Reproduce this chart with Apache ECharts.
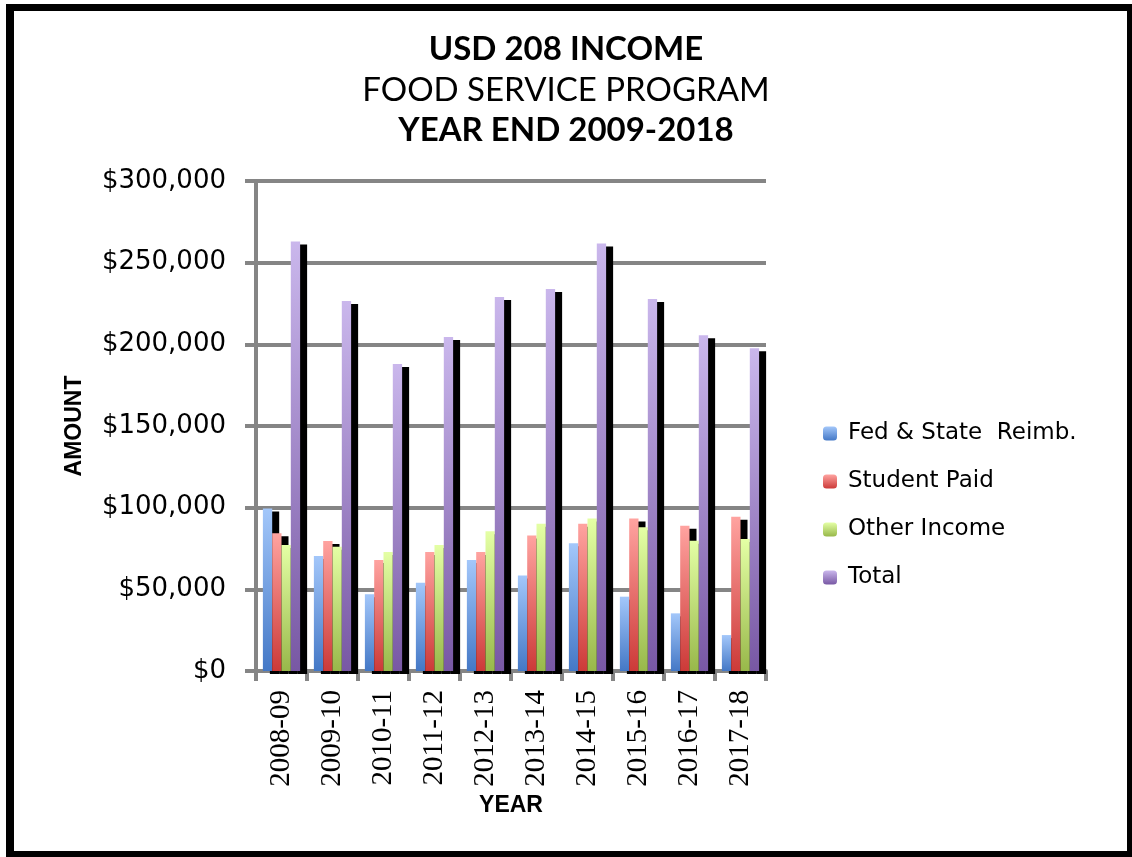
<!DOCTYPE html>
<html>
<head>
<meta charset="utf-8">
<script src="https://cdn.jsdelivr.net/npm/echarts@6/dist/echarts.min.js"></script>
<style>
html,body{margin:0;padding:0;background:#fff;}
#chart{width:1132px;height:857px;}
</style>
</head>
<body>
<div id="chart"></div>
<script>
var categories = ['2008-09','2009-10','2010-11','2011-12','2012-13','2013-14','2014-15','2015-16','2016-17','2017-18'];
var fedState = [99500, 70400, 47000, 54000, 68000, 58400, 78200, 45500, 35300, 22000];
var studentPaid = [84300, 79600, 68000, 72900, 72900, 83000, 90200, 93300, 89000, 94500];
var otherIncome = [77200, 76100, 72900, 77200, 85500, 90200, 93300, 88000, 79800, 80800];
var total = [262900, 226600, 188000, 204500, 229000, 233900, 261700, 227800, 205500, 197600];
var yTicks = [0, 50000, 100000, 150000, 200000, 250000, 300000];

function grad(top, bottom) {
  return new echarts.graphic.LinearGradient(0, 0, 0, 1, [
    {offset: 0, color: top}, {offset: 1, color: bottom}
  ]);
}
var gridColor = '#858585';
var chart = echarts.init(document.getElementById('chart'));

function barSeries(name, data, top, bottom) {
  return {
    name: name, type: 'bar', data: data,
    barGap: '0%', barCategoryGap: '27%',
    itemStyle: {
      color: grad(top, bottom),
      shadowColor: '#000', shadowBlur: 0, shadowOffsetX: 7, shadowOffsetY: 3
    }
  };
}

chart.setOption({
  animation: false,
  backgroundColor: '#fff',
  title: [
    {text: 'USD 208 INCOME', left: 'center', top: 28, textStyle: {fontFamily: 'Lato', fontWeight: 'bold', fontSize: 33, color: '#000'}},
    {text: 'FOOD SERVICE PROGRAM', left: 'center', top: 69, textStyle: {fontFamily: 'Lato', fontWeight: 'normal', fontSize: 33, color: '#000'}},
    {text: 'YEAR END 2009-2018', left: 'center', top: 109, textStyle: {fontFamily: 'Lato', fontWeight: 'bold', fontSize: 33, color: '#000'}}
  ],
  legend: {
    orient: 'vertical', left: 818, top: 417,
    itemWidth: 14, itemHeight: 14, itemGap: 25,
    textStyle: {fontFamily: 'DejaVu Sans', fontSize: 23, color: '#000', padding: [0, 0, 0, 6]},
    data: ['Fed & State  Reimb.', 'Student Paid', 'Other Income', 'Total']
  },
  grid: {left: 256, right: 366, top: 181, bottom: 186, containLabel: false},
  xAxis: {
    type: 'category', data: categories,
    name: 'YEAR', nameLocation: 'middle', nameGap: 123,
    nameTextStyle: {fontFamily: 'Liberation Sans', fontWeight: 'bold', fontSize: 23, color: '#000'},
    axisLine: {lineStyle: {color: gridColor, width: 4}},
    axisTick: {show: true, length: 10, lineStyle: {color: gridColor, width: 4}},
    axisLabel: {rotate: 90, margin: 19, fontFamily: 'Liberation Sans Narrow', fontSize: 29, color: '#000'}
  },
  yAxis: {
    type: 'value', min: 0, max: 300000, interval: 50000,
    name: 'AMOUNT', nameLocation: 'middle', nameGap: 170, nameRotate: 90,
    nameTextStyle: {fontFamily: 'Liberation Sans', fontWeight: 'bold', fontSize: 23, color: '#000'},
    axisLine: {show: true, lineStyle: {color: gridColor, width: 4}},
    axisTick: {show: true, length: 11, lineStyle: {color: gridColor, width: 4}},
    splitLine: {lineStyle: {color: gridColor, width: 4}},
    axisLabel: {
      margin: 30, fontFamily: 'DejaVu Sans', fontSize: 26, color: '#000',
      formatter: function (v) { return yTicks.indexOf(v) >= 0 ? '$' + v.toLocaleString('en-US') : ''; }
    }
  },
  graphic: [
    {type: 'rect', shape: {x: 6, y: 4, width: 1126, height: 7}, style: {fill: '#000'}},
    {type: 'rect', shape: {x: 6, y: 4, width: 8, height: 853}, style: {fill: '#000'}},
    {type: 'rect', shape: {x: 6, y: 851, width: 1126, height: 6}, style: {fill: '#000'}},
    {type: 'rect', shape: {x: 1127, y: 4, width: 5, height: 853}, style: {fill: '#000'}}
  ],
  series: [
    barSeries('Fed & State  Reimb.', fedState, '#A3C7FA', '#4478C6'),
    barSeries('Student Paid', studentPaid, '#FFA3A0', '#CC3A38'),
    barSeries('Other Income', otherIncome, '#E4FFA5', '#98B84A'),
    barSeries('Total', total, '#CAB7EC', '#7858A4')
  ]
});
</script>
</body>
</html>
